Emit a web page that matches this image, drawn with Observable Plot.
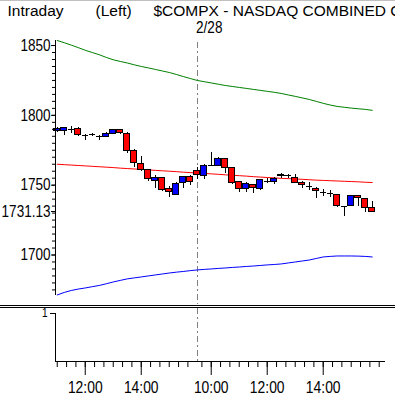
<!DOCTYPE html>
<html><head><meta charset="utf-8">
<script src="https://cdn.jsdelivr.net/npm/d3@7"></script>
<script src="https://cdn.jsdelivr.net/npm/@observablehq/plot@0.6"></script>
<style>
body{margin:0;background:#fff;}
#wrap{position:relative;width:395px;height:396px;border-top:1px solid #c0c0c0;overflow:hidden;background:#fff;}
#topchart svg,#botchart svg{display:block;}
#sep{position:absolute;left:0;top:304px;width:395px;height:0;border-top:3px double #000;z-index:2;}
</style></head><body><div id="wrap"><div id="topchart"></div><div id="botchart"></div><div id="sep"></div></div>
<script>
// 15-minute candles: day 1 11:00-15:45 (slots 0-19), day 2 (2/28) 9:30-15:45 (slots 20-45)
const opens  = [1789.0,1789.0,1790.0,1790.5,1785.7,1786.2,1784.5,1784.5,1787.0,1789.3,
                1787.0,1774.3,1765.5,1760.7,1752.9,1754.8,1747.1,1743.3,1751.9,1755.6,
                1760.0,1756.4,1764.3,1763.6,1769.0,1762.6,1752.0,1747.1,1750.0,1747.1,
                1752.9,1752.4,1756.5,1756.3,1754.8,1751.6,1748.8,1747.6,1744.5,1744.0,
                1742.9,1734.5,1735.2,1742.4,1739.8,1733.4];
const highs  = [1791.5,1791.0,1792.0,1791.4,1786.2,1787.0,1785.7,1788.0,1790.0,1790.0,
                1787.5,1775.7,1770.7,1761.5,1756.6,1755.2,1749.3,1752.0,1756.0,1757.0,
                1762.6,1765.0,1773.3,1769.8,1769.3,1763.0,1752.2,1751.6,1750.4,1754.1,
                1754.8,1755.5,1758.4,1757.6,1757.9,1752.4,1751.6,1748.1,1746.9,1746.4,
                1743.3,1734.8,1742.9,1742.9,1740.2,1738.6];
const lows   = [1788.0,1785.7,1787.0,1785.2,1782.0,1784.5,1782.0,1783.8,1786.2,1786.2,
                1772.6,1763.0,1760.0,1752.4,1747.6,1745.2,1741.2,1742.9,1747.4,1750.0,
                1754.1,1754.1,1763.6,1763.1,1758.4,1750.7,1744.5,1744.5,1744.1,1746.4,
                1751.2,1750.5,1754.8,1755.0,1751.2,1747.6,1745.9,1740.5,1741.7,1741.2,
                1734.1,1727.9,1735.0,1734.5,1730.2,1731.0];
const closes = [1790.5,1790.7,1790.0,1786.2,1785.7,1786.2,1784.5,1787.0,1789.3,1787.7,
                1774.3,1766.2,1761.0,1754.3,1754.8,1746.6,1744.8,1751.2,1755.6,1752.4,
                1757.6,1763.6,1764.3,1769.0,1762.6,1751.6,1747.6,1750.7,1748.1,1753.6,
                1752.9,1754.3,1757.0,1756.8,1751.9,1750.0,1748.8,1745.7,1744.5,1744.0,
                1735.0,1734.5,1742.4,1740.5,1733.4,1731.13];
// Bollinger bands
const upperBand = [1853.6,1852.0,1850.3,1848.5,1846.6,1845.0,1843.4,1841.5,1839.8,1838.6,
                   1837.5,1836.2,1835.0,1834.0,1832.9,1831.8,1830.7,1829.3,1827.8,1826.4,
                   1825.0,1824.1,1823.2,1822.3,1821.4,1820.7,1820.0,1819.3,1818.6,1817.9,
                   1817.2,1816.5,1815.7,1814.6,1813.6,1812.5,1811.4,1810.0,1808.6,1807.4,
                   1806.4,1805.8,1805.2,1804.7,1804.3,1803.6];
const middleBand = [1765.0,1764.7,1764.4,1764.1,1763.8,1763.5,1763.2,1762.9,1762.6,1762.2,
                    1761.9,1761.6,1761.3,1761.0,1760.6,1760.3,1760.0,1759.7,1759.3,1759.0,
                    1758.7,1758.4,1758.1,1757.8,1757.4,1757.1,1756.8,1756.5,1756.1,1755.8,
                    1755.5,1755.2,1754.9,1754.7,1754.4,1754.2,1753.9,1753.6,1753.4,1753.2,
                    1753.0,1752.8,1752.6,1752.4,1752.1,1751.9];
const lowerBand = [1671.4,1673.2,1674.6,1675.6,1676.4,1677.3,1678.2,1679.4,1680.7,1681.8,
                   1682.9,1683.6,1684.3,1685.0,1685.7,1686.4,1687.1,1687.7,1688.2,1688.8,
                   1689.3,1689.7,1690.0,1690.4,1690.7,1691.1,1691.4,1691.8,1692.1,1692.5,
                   1692.9,1693.2,1693.6,1694.3,1695.0,1695.7,1696.4,1697.5,1698.6,1699.0,
                   1699.3,1699.3,1699.3,1699.2,1699.0,1698.6];
// axis ticks
const yMajorTicks = [1700, 1750, 1800, 1850];
const lastPrice = [1731.13];
const xMajorTicks = [4, 12, 22, 30, 38];
const xMajorLabels = ["12:00", "14:00", "10:00", "12:00", "14:00"];
const daySplit = [20];
const titleLeft = "Intraday", titleMid = "(Left)", titleMain = "$COMPX - NASDAQ COMBINED COMPOSITE INDEX", dateLabel = "2/28";
const titles = [titleLeft, titleMid, titleMain];

const xDomain = [-0.25, 46.9];
const yDomain = [1671.0, 1853.6];
const SANS = "'Liberation Sans',Arial,sans-serif";

const candles = opens.map((o, i) => ({i, o, h: highs[i], l: lows[i], c: closes[i]}));
const ups = candles.filter(d => d.c > d.o);
const downs = candles.filter(d => d.c < d.o);
const dojis = candles.filter(d => d.c === d.o);
const bands = upperBand.map((u, i) => ({i, u, m: middleBand[i], lo: lowerBand[i]}));
const yMinor = d3.range(1675, 1851, 5);
const xMinor = d3.range(0, 19, 4/3).concat(d3.range(20 + 2/3, 46.01, 4/3));
const hw = 0.4;
const crisp = "crispEdges";

const topChart = Plot.plot({
  width: 395, height: 304,
  marginTop: 39, marginBottom: 10, marginLeft: 55, marginRight: 10,
  style: {fontFamily: SANS, fontSize: "16.5px", background: "#fff", color: "#000"},
  x: {domain: xDomain, axis: null},
  y: {domain: yDomain},
  marks: [
    Plot.ruleX(daySplit, {stroke: "#808080", strokeDasharray: "6,3,2,3", insetBottom: -9, insetTop: 2, shapeRendering: crisp}),
    Plot.line(bands, {x: "i", y: "u", stroke: "#008000", strokeWidth: 1}),
    Plot.line(bands, {x: "i", y: "m", stroke: "#ff0000", strokeWidth: 1}),
    Plot.line(bands, {x: "i", y: "lo", stroke: "#0000ff", strokeWidth: 1}),
    Plot.ruleX(candles, {x: "i", y1: "l", y2: "h", stroke: "#000", shapeRendering: crisp}),
    Plot.rect(ups, {x1: d => d.i - hw, x2: d => d.i + hw, y1: "o", y2: "c", fill: "#0000ff", stroke: "#000", shapeRendering: crisp}),
    Plot.rect(downs, {x1: d => d.i - hw, x2: d => d.i + hw, y1: "o", y2: "c", fill: "#ff0000", stroke: "#000", shapeRendering: crisp}),
    Plot.ruleY(dojis, {y: "c", x1: d => d.i - hw, x2: d => d.i + hw, stroke: "#000", shapeRendering: crisp}),
    Plot.ruleX([xDomain[0]], {stroke: "#000", shapeRendering: crisp}),
    Plot.axisY(yMinor, {tickSize: 3, tickFormat: () => "", stroke: "#000"}),
    Plot.axisY(yMajorTicks, {tickSize: 4, tickPadding: 1, tickFormat: d => String(d), fontSize: 16.5, fill: "#000", stroke: "#000"}),
    Plot.axisY(lastPrice, {tickSize: 4, tickPadding: 1, tickFormat: d => d.toFixed(2), fontSize: 16.5, fill: "#000", stroke: "#000"}),
    Plot.text([titleLeft], {text: d => d, frameAnchor: "top-left", dx: -48, dy: -36, textAnchor: "start", lineAnchor: "top", fontSize: 15.5, fill: "#000"}),
    Plot.text([titleMid], {text: d => d, frameAnchor: "top-left", dx: 40, dy: -36, textAnchor: "start", lineAnchor: "top", fontSize: 15.5, fill: "#000"}),
    Plot.text([titleMain], {text: d => d, frameAnchor: "top-left", dx: 98, dy: -36, textAnchor: "start", lineAnchor: "top", fontSize: 15.5, fill: "#000"}),
    Plot.text(daySplit, {x: d => d, text: () => dateLabel, frameAnchor: "top", dx: 12, dy: -19, lineAnchor: "top", fontSize: 16.5, fill: "#000"})
  ]
});
document.getElementById("topchart").appendChild(topChart);

const botChart = Plot.plot({
  width: 395, height: 92,
  marginTop: 8, marginBottom: 36, marginLeft: 55, marginRight: 10,
  style: {fontFamily: SANS, fontSize: "16.5px", background: "#fff", color: "#000"},
  x: {domain: xDomain},
  y: {domain: [0, 1]},
  marks: [
    Plot.ruleX(daySplit, {stroke: "#808080", strokeDasharray: "6,3,2,3", insetTop: -5, shapeRendering: crisp}),
    Plot.ruleX([xDomain[0]], {stroke: "#000", shapeRendering: crisp}),
    Plot.ruleY([0], {stroke: "#000", shapeRendering: crisp}),
    Plot.axisY([1], {tickSize: 5, tickPadding: 3, tickFormat: d => String(d), fontSize: 12, fill: "#000", stroke: "#000"}),
    Plot.axisX(xMinor, {tickSize: 6, tickFormat: () => "", stroke: "#000"}),
    Plot.axisX(xMajorTicks, {tickSize: 14, tickPadding: 6, tickFormat: (d) => xMajorLabels[xMajorTicks.indexOf(d)], fontSize: 16.5, fill: "#000", stroke: "#000"})
  ]
});
document.getElementById("botchart").appendChild(botChart);

// the original uses a condensed bitmap-like font for numbers: compress those labels (not the title)
function condense(svg, factor) {
  svg.querySelectorAll("text").forEach(t => {
    if (titles.includes(t.textContent)) return;
    const w = t.getComputedTextLength();
    if (w > 0) {
      t.setAttribute("textLength", (w * factor).toFixed(2));
      t.setAttribute("lengthAdjust", "spacingAndGlyphs");
    }
  });
}
condense(topChart, 0.82);
condense(botChart, 0.84);
</script></body></html>
